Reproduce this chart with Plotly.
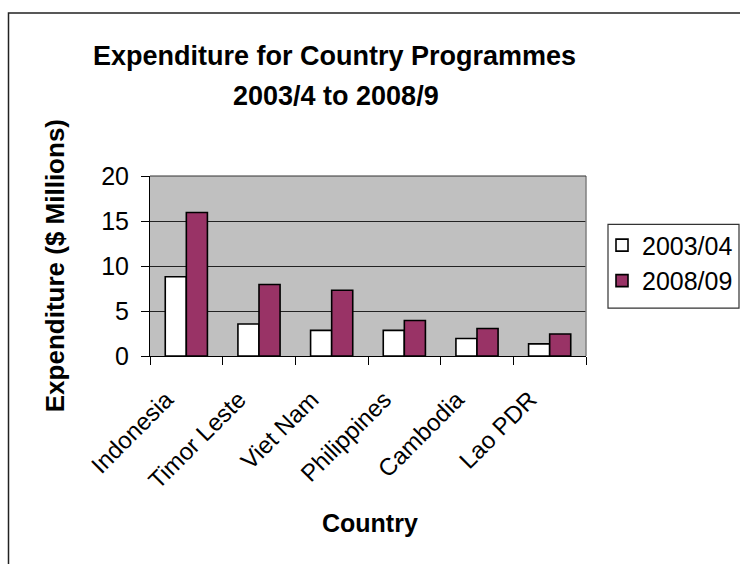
import plotly.graph_objects as go

countries = ["Indonesia", "Timor Leste", "Viet Nam", "Philippines", "Cambodia", "Lao PDR"]
exp_2003 = [8.8, 3.55, 2.85, 2.85, 1.95, 1.35]
exp_2008 = [15.95, 7.95, 7.3, 3.95, 3.05, 2.45]
series_names = ["2003/04", "2008/09"]
y_ticks = [0, 5, 10, 15, 20]

FONT = "Liberation Sans, Arial, sans-serif"

fig = go.Figure()
fig.add_trace(go.Bar(x=countries, y=exp_2003, name=series_names[0], legendgroup="a",
                     marker=dict(color="#FFFFFF", line=dict(color="#000000", width=1.6))))
fig.add_trace(go.Bar(x=countries, y=exp_2008, name=series_names[1], legendgroup="b",
                     marker=dict(color="#993366", line=dict(color="#000000", width=1.6))))

L, R, T, B = 150, 586, 175.5, 356
W, H = 740, 564
pw, ph = R - L, B - T

def px(x):
    return (x - L) / pw

def py(y):
    return (B - y) / ph

fig.update_layout(
    width=W, height=H,
    margin=dict(l=L, r=W - R, t=T, b=H - B, pad=0, autoexpand=False),
    paper_bgcolor="#FFFFFF",
    plot_bgcolor="#C0C0C0",
    font=dict(family=FONT, size=25, color="#000000"),
    barmode="group", bargap=0.42, bargroupgap=0,
    showlegend=True,
    legend=dict(x=px(602), y=py(222), xanchor="left", yanchor="top",
                borderwidth=0, bgcolor="rgba(0,0,0,0)",
                font=dict(family=FONT, size=25), tracegroupgap=7,
                traceorder="normal", itemwidth=30),
    xaxis=dict(type="category", tickson="boundaries", ticks="outside", ticklen=8,
               tickcolor="#000000", showline=True, linecolor="#000000", linewidth=1,
               tickangle=-45, tickfont=dict(family=FONT, size=24), showgrid=False,
               ticklabelstandoff=19, ticklabelshift=-20),
    yaxis=dict(range=[0, 20], tickvals=y_ticks, ticks="outside", ticklen=8,
               tickcolor="#000000", showline=True, linecolor="#000000", linewidth=1,
               showgrid=True, gridcolor="#222222", gridwidth=1, zeroline=False,
               tickfont=dict(family=FONT, size=25), ticklabelstandoff=7),
    shapes=[
        dict(type="line", xref="paper", yref="paper", x0=1, x1=1, y0=0, y1=1,
             line=dict(color="#808080", width=1.5)),
        dict(type="line", xref="paper", yref="paper", x0=0, x1=1, y0=1, y1=1,
             line=dict(color="#333333", width=1)),
        dict(type="rect", xref="paper", yref="paper", x0=px(8.5), x1=px(800),
             y0=py(12), y1=py(640), line=dict(color="#222222", width=1.5),
             fillcolor="rgba(0,0,0,0)", layer="below"),
        dict(type="rect", xref="paper", yref="paper", x0=px(608), x1=px(739),
             y0=py(224), y1=py(308), line=dict(color="#333333", width=1.2),
             fillcolor="#FFFFFF", layer="below"),
    ],
    annotations=[
        dict(text="<b>Expenditure for Country Programmes</b>", xref="paper", yref="paper",
             x=px(334), y=py(55), xanchor="center", yanchor="middle", showarrow=False,
             font=dict(family=FONT, size=27)),
        dict(text="<b>2003/4 to 2008/9</b>", xref="paper", yref="paper",
             x=px(336), y=py(95), xanchor="center", yanchor="middle", showarrow=False,
             font=dict(family=FONT, size=27)),
        dict(text="<b>Expenditure ($ Millions)</b>", xref="paper", yref="paper",
             x=px(55), y=py(266), xanchor="center", yanchor="middle", showarrow=False,
             textangle=-90, font=dict(family=FONT, size=26)),
        dict(text="<b>Country</b>", xref="paper", yref="paper",
             x=px(370), y=py(523), xanchor="center", yanchor="middle", showarrow=False,
             font=dict(family=FONT, size=25)),
    ],
)

fig.write_html("out.html", config={"displayModeBar": False},
               post_script="document.body.style.margin='0';document.body.style.overflow='hidden';")
